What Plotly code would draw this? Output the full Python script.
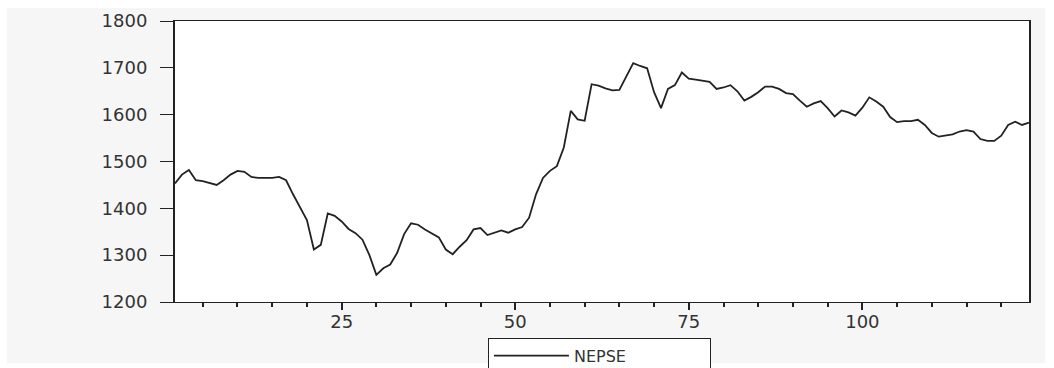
import plotly.graph_objects as go

# NEPSE index, observations 1..124
obs = list(range(1, 125))
nepse = [
    1453, 1472, 1482, 1460, 1458, 1454, 1450, 1460, 1472, 1480,
    1478, 1467, 1465, 1465, 1465, 1467, 1460, 1430, 1404, 1375,
    1312, 1322, 1389, 1384, 1372, 1356, 1347, 1333, 1300, 1258,
    1272, 1280, 1305, 1345, 1368, 1365, 1355, 1346, 1338, 1312,
    1302, 1318, 1332, 1355, 1358, 1343, 1348, 1353, 1348, 1355,
    1360, 1380, 1430, 1465, 1480, 1490, 1530, 1608, 1590, 1587,
    1665, 1662, 1656, 1652, 1653, 1680, 1710, 1704, 1699, 1648,
    1614, 1655, 1663, 1690, 1677, 1675, 1673, 1670, 1655, 1658,
    1663, 1650, 1630, 1638, 1648, 1660, 1660, 1655, 1646, 1644,
    1630, 1617, 1624, 1629, 1614, 1596, 1609, 1605, 1598, 1615,
    1637, 1628, 1617, 1595, 1584, 1586, 1586, 1589, 1578, 1561,
    1553, 1555, 1558, 1564, 1567, 1564, 1548, 1544, 1544, 1555,
    1578, 1585, 1578, 1583,
]

x_ticks = [25, 50, 75, 100]
y_ticks = [1200, 1300, 1400, 1500, 1600, 1700, 1800]

FONT = "DejaVu Sans"
INK = "#222222"

fig = go.Figure()
fig.add_trace(go.Scatter(
    x=obs, y=nepse, mode="lines", name="NEPSE",
    line=dict(color=INK, width=1.8),
))

fig.update_layout(
    width=1054, height=368,
    margin=dict(l=175, r=25, t=21, b=66, autoexpand=False),
    paper_bgcolor="white",
    plot_bgcolor="white",
    font=dict(family=FONT, size=18, color="#333333"),
    showlegend=True,
    legend=dict(
        orientation="h", x=0.497, xanchor="center", y=-0.127, yanchor="top",
        bgcolor="white", bordercolor=INK, borderwidth=1,
        font=dict(family=FONT, size=16, color="#333333"),
        itemwidth=75, entrywidth=131,
    ),
    shapes=[
        # light grey frame around the chart
        dict(type="rect", xref="paper", yref="paper", layer="below",
             x0=-0.197, x1=1.019, y0=-0.217, y1=1.046,
             fillcolor="#f6f6f6", line=dict(width=0)),
        # white plotting area
        dict(type="rect", xref="paper", yref="paper", layer="below",
             x0=0, x1=1, y0=0, y1=1,
             fillcolor="white", line=dict(width=0)),
    ],
)

fig.update_xaxes(
    range=[1, 124], tickvals=x_ticks, ticktext=[str(v) for v in x_ticks],
    ticks="outside", ticklen=7, tickwidth=2, tickcolor=INK,
    minor=dict(dtick=5, tick0=0, ticks="outside", ticklen=4, tickwidth=2,
               tickcolor=INK, showgrid=False),
    showline=True, linecolor=INK, linewidth=1, mirror=True,
    showgrid=False, zeroline=False, ticklabelstandoff=-4,
)
fig.update_yaxes(
    range=[1200, 1800], tickvals=y_ticks, ticktext=[str(v) for v in y_ticks],
    ticks="outside", ticklen=13, tickwidth=1, tickcolor=INK,
    showline=True, linecolor=INK, linewidth=2, mirror=True,
    showgrid=False, zeroline=False, ticklabelstandoff=9,
)

fig.write_html("out.html")
